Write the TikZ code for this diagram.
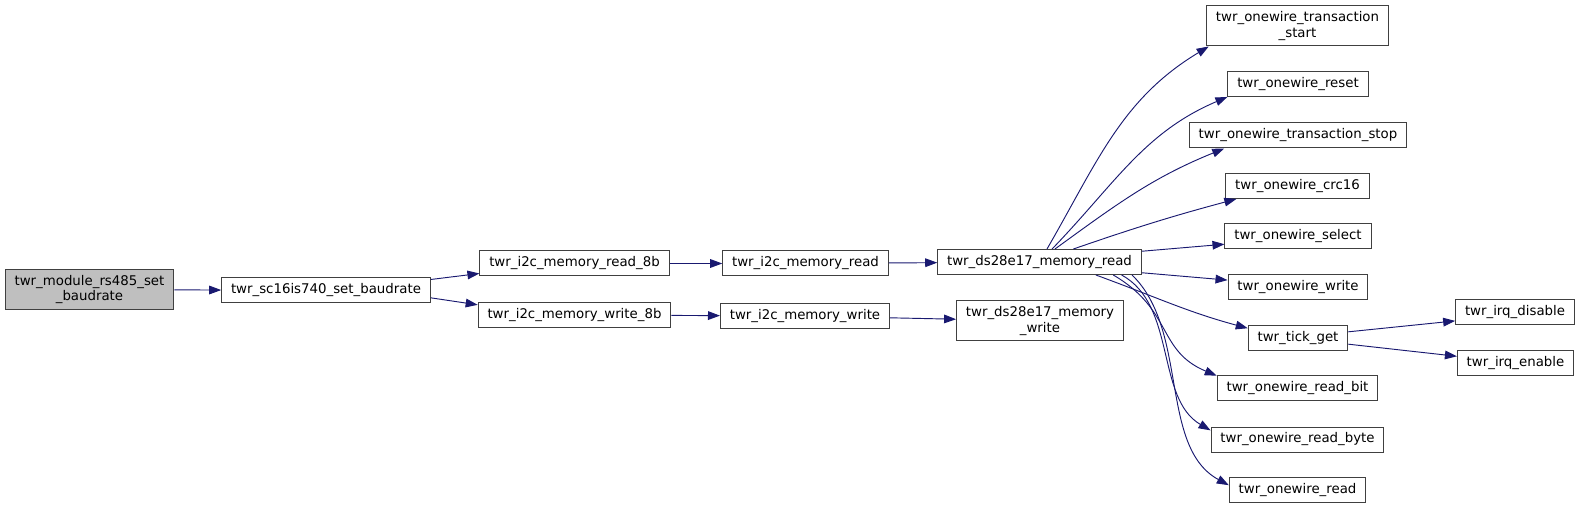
\documentclass[tikz,border=0pt]{standalone}
\usepackage{fontspec}
\setmainfont{DejaVu Sans}
\usetikzlibrary{arrows.meta}
\definecolor{callblue}{HTML}{191970}
\definecolor{boxline}{HTML}{404040}
\definecolor{rootfill}{HTML}{BFBFBF}
\tikzset{
  fn/.style={draw=boxline, fill=white, line width=0.75pt, inner xsep=7pt, inner ysep=1pt,
    minimum height=18.75pt, align=center, font=\fontsize{10}{11.5}\selectfont},
  fntwo/.style={fn, minimum height=30pt},
  call/.style={draw=callblue, line width=0.7pt, -{Triangle[length=9pt,width=6.5pt]}}
}
\begin{document}
\begin{tikzpicture}[x=0.75pt,y=0.75pt]
  \useasboundingbox (0,0) rectangle (1581,-509);

  % Llamadores
  \node[fntwo, fill=rootfill] (root) at (89.5,-289.5) {twr\_module\_rs485\_set\\\_baudrate};
  \node[fn] (sc16) at (326,-290.5) {twr\_sc16is740\_set\_baudrate};
  \node[fn] (rd8b) at (574.5,-263.5) {twr\_i2c\_memory\_read\_8b};
  \node[fn] (wr8b) at (574.5,-315) {twr\_i2c\_memory\_write\_8b};
  \node[fn] (memrd) at (805.5,-263.5) {twr\_i2c\_memory\_read};
  \node[fn] (memwr) at (805,-316) {twr\_i2c\_memory\_write};
  \node[fn] (dsrd) at (1039.5,-262) {twr\_ds28e17\_memory\_read};
  \node[fntwo] (dswr) at (1040,-321) {twr\_ds28e17\_memory\\\_write};

  % Funciones onewire
  \node[fntwo] (tstart) at (1297.5,-26) {twr\_onewire\_transaction\\\_start};
  \node[fn] (reset) at (1298,-84.5) {twr\_onewire\_reset};
  \node[fn] (tstop) at (1298,-135.5) {twr\_onewire\_transaction\_stop};
  \node[fn] (crc) at (1297.5,-186) {twr\_onewire\_crc16};
  \node[fn] (select) at (1298,-236.5) {twr\_onewire\_select};
  \node[fn] (owwrite) at (1298,-287.5) {twr\_onewire\_write};
  \node[fn] (tick) at (1298,-338) {twr\_tick\_get};
  \node[fn] (rbit) at (1297.5,-388.5) {twr\_onewire\_read\_bit};
  \node[fn] (rbyte) at (1297.5,-439.5) {twr\_onewire\_read\_byte};
  \node[fn] (owread) at (1297.5,-490) {twr\_onewire\_read};
  \node[fn] (irqdis) at (1515,-312.5) {twr\_irq\_disable};
  \node[fn] (irqen) at (1515.5,-363.5) {twr\_irq\_enable};

  % Llamadas rectas
  \foreach \from/\to in {root/sc16, sc16.6/rd8b.186, sc16.356/wr8b.174, rd8b/memrd,
      wr8b/memwr, memrd/dsrd, memwr/dswr, dsrd.6/select.186, dsrd.354/owwrite.174,
      tick.7/irqdis.188, tick.353/irqen.173}
    \draw[call] (\from) -- (\to);

  % Llamadas curvas
  \draw[call] (dsrd.60) to[out=60,in=211] (tstart.193);
  \draw[call] (dsrd.46) to[out=46,in=203] (reset.190);
  \draw[call] (dsrd.40) to[out=36,in=202] (tstop.190);
  \draw[call] (dsrd.21) to[out=19,in=195] (crc.192);
  \draw[call] (dsrd.347) to[out=-20,in=165] (tick.169);
  \draw[call] (dsrd.350) .. controls +(60,-35) and +(-60,25) .. (rbit.171);
  \draw[call] (dsrd.351) .. controls +(55,-30) and +(-55,32) .. (rbyte.174);
  \draw[call] (dsrd.352) .. controls +(57,-55) and +(-70,38) .. (owread.176);
\end{tikzpicture}
\end{document}
